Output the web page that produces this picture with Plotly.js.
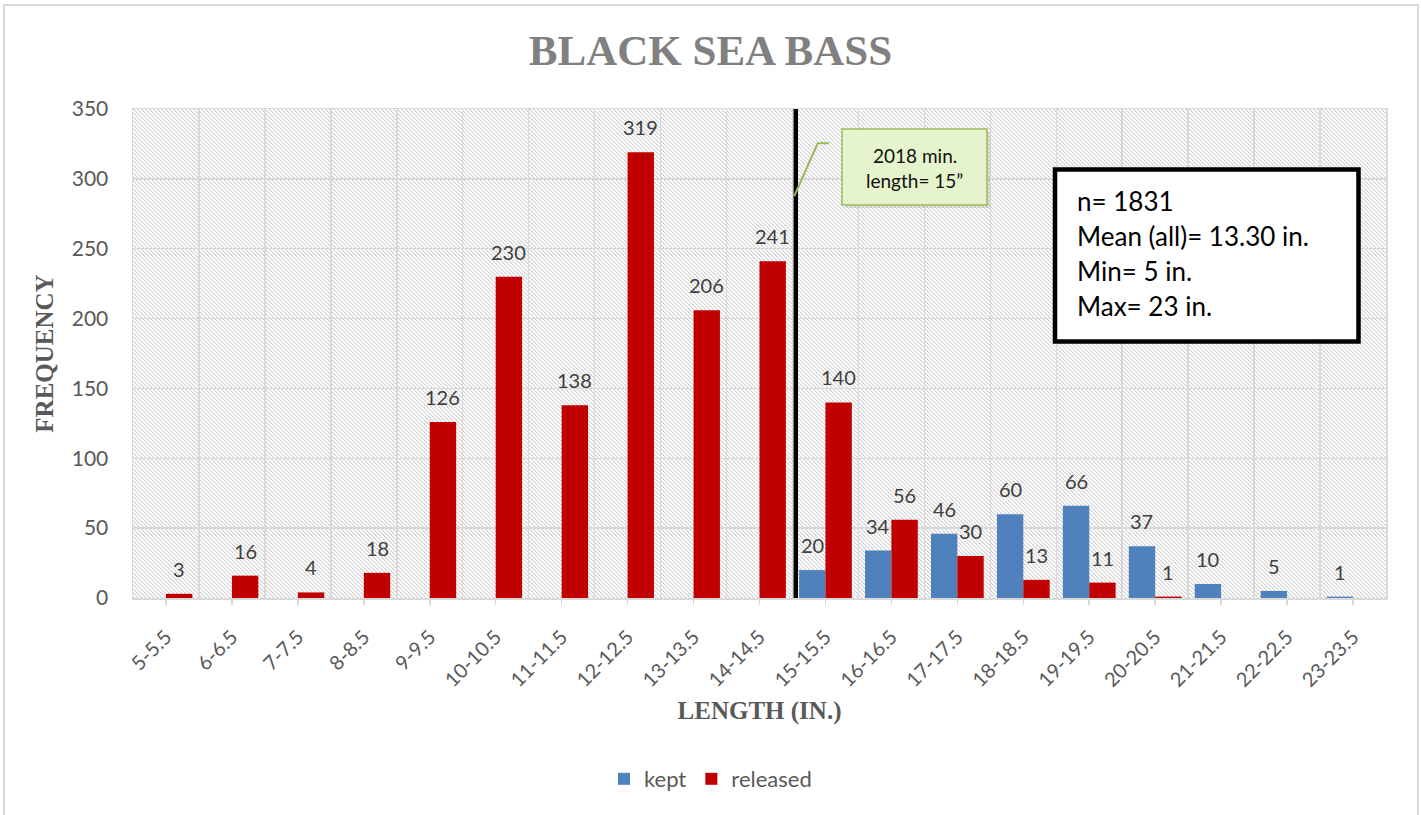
<!DOCTYPE html>
<html><head><meta charset="utf-8">
<script src="https://cdn.plot.ly/plotly-3.0.1.min.js"></script>
<style>
html,body{margin:0;padding:0;background:#fff;overflow:hidden;}
#frame{position:absolute;left:3px;top:4px;width:1416px;height:900px;border:2px solid #d9d9d9;box-sizing:border-box;}
#hatch{position:absolute;left:133px;top:109px;width:1253px;height:489px;
 background-image:url("data:image/svg+xml;utf8,<svg xmlns='http://www.w3.org/2000/svg' width='4' height='4' shape-rendering='crispEdges'><rect width='4' height='4' fill='%23ffffff'/><rect x='0' y='0' width='1' height='1' fill='%23cfcfcf'/><rect x='1' y='1' width='1' height='1' fill='%23cfcfcf'/><rect x='2' y='2' width='1' height='1' fill='%23cfcfcf'/><rect x='3' y='3' width='1' height='1' fill='%23cfcfcf'/><rect x='1' y='0' width='1' height='1' fill='%23ececec'/><rect x='2' y='1' width='1' height='1' fill='%23ececec'/><rect x='3' y='2' width='1' height='1' fill='%23ececec'/><rect x='0' y='3' width='1' height='1' fill='%23ececec'/></svg>");
 background-repeat:repeat;}
#chart{position:absolute;left:0;top:0;width:1421px;height:815px;}
</style></head><body>
<div id="frame"></div><div id="hatch"></div><div id="chart"></div>
<script>
const categories = ["5-5.5","6-6.5","7-7.5","8-8.5","9-9.5","10-10.5","11-11.5","12-12.5","13-13.5","14-14.5",
  "15-15.5","16-16.5","17-17.5","18-18.5","19-19.5","20-20.5","21-21.5","22-22.5","23-23.5"];
const kept     = [null,null,null,null,null,null,null,null,null,null,20,34,46,60,66,37,10,5,1];
const released = [3,16,4,18,126,230,138,319,206,241,140,56,30,13,11,1,null,null,null];
const seriesNames = ["kept","released"];
const minLegalLength = 9.55; // position of the 15" limit line, in category units
const calloutLines = ["2018 min.","length= 15\u201d"];
const statsLines = ["n= 1831","Mean (all)= 13.30 in.","Min= 5 in.","Max= 23 in."];

const gray = '#595959';
const labelFont = {family:'Lato', size:20, color:'#404040'};

const traces = [
  {type:'bar', name:seriesNames[0], x:categories, y:kept, marker:{color:'#4F81BD'}, hoverinfo:'skip'},
  {type:'bar', name:seriesNames[1], x:categories, y:released, marker:{color:'#C00000'}, hoverinfo:'skip'},
  {type:'scatter', x:[], y:[], xaxis:'x2', yaxis:'y', showlegend:false, hoverinfo:'skip'}
];

// px -> paper helpers (plot area: x 133..1386, y 109..598)
const px = v => (v-133)/1253;
const py = v => (598-v)/489;

const annotations = [];
categories.forEach((c,i)=>{
  if(kept[i]!=null) annotations.push({x:c, y:kept[i], text:String(kept[i]), xshift:-13.2, yshift:11,
     yanchor:'bottom', showarrow:false, font:labelFont});
  if(released[i]!=null) annotations.push({x:c, y:released[i], text:String(released[i]), xshift:13.2, yshift:11,
     yanchor:'bottom', showarrow:false, font:labelFont});
});
const calloutY = [155,180];
calloutLines.forEach((t,k)=>annotations.push({xref:'paper', yref:'paper', x:px(914.5), y:py(calloutY[k]),
  text:t, showarrow:false, xanchor:'center', yanchor:'middle', font:{family:'Lato', size:19, color:'#111'}}));
const statsY = [201,236,271,306];
statsLines.forEach((t,k)=>annotations.push({xref:'paper', yref:'paper', x:px(1075), y:py(statsY[k]),
  text:t, showarrow:false, xanchor:'left', yanchor:'middle', font:{family:'Lato', size:26, color:'#000'}}));

const shapes = [
  {type:'line', xref:'x', yref:'y', x0:minLegalLength, x1:minLegalLength, y0:0, y1:350, line:{color:'#000', width:4.5}},
  {type:'rect', xref:'paper', yref:'paper', x0:px(845), x1:px(990), y0:py(132), y1:py(208), fillcolor:'rgba(0,0,0,0.10)', line:{width:0}},
  {type:'rect', xref:'paper', yref:'paper', x0:px(842), x1:px(987), y0:py(129), y1:py(205), fillcolor:'#e5f4cc', line:{color:'#9bbb59', width:1.5}},
  {type:'path', xref:'paper', yref:'paper', path:`M ${px(829.3)},${py(143.3)} L ${px(817.7)},${py(143.3)} L ${px(794.3)},${py(196)}`, line:{color:'#9bbb59', width:2}},
  {type:'rect', xref:'paper', yref:'paper', x0:px(1055), x1:px(1358.5), y0:py(169.5), y1:py(341.5), fillcolor:'#fff', line:{color:'#000', width:4.5}}
];

const layout = {
  width:1421, height:815,
  margin:{l:133, r:35, t:109, b:217},
  paper_bgcolor:'rgba(0,0,0,0)', plot_bgcolor:'rgba(0,0,0,0)',
  barmode:'group', bargap:0.2, bargroupgap:0,
  title:{text:'<b>BLACK SEA BASS</b>', font:{family:'Liberation Serif', size:43, color:'#808080'},
    xref:'container', x:0.5, xanchor:'center', yref:'container', y:1-50/815, yanchor:'middle'},
  xaxis:{type:'category', categoryorder:'array', categoryarray:categories, range:[-0.5,18.5],
    ticks:'outside', ticklen:5, tickwidth:1.5, tickcolor:'#d9d9d9', showline:true, linecolor:'#d9d9d9', linewidth:1.5, mirror:true,
    showgrid:false, tickangle:-45, ticklabelstandoff:13, tickfont:{family:'Lato', size:20, color:gray},
    title:{text:'<b>LENGTH (IN.)</b>', font:{family:'Liberation Serif', size:25, color:gray}, standoff:11}},
  xaxis2:{overlaying:'x', anchor:'y', type:'linear', range:[-0.5,18.5], tick0:-0.5, dtick:1, showgrid:true,
    gridcolor:'#d9d9d9', gridwidth:1.5, showticklabels:false, ticks:'', zeroline:false, showline:false},
  yaxis:{range:[0,350], dtick:50, showgrid:true, gridcolor:'#d9d9d9', gridwidth:1.5, zeroline:false,
    ticks:'outside', ticklen:19, tickcolor:'rgba(0,0,0,0)', showline:true, linecolor:'#d9d9d9', linewidth:1.5, mirror:true,
    tickfont:{family:'Lato', size:21, color:gray},
    title:{text:'<b>FREQUENCY</b>', font:{family:'Liberation Serif', size:25, color:gray}, standoff:11}},
  legend:{orientation:'h', xref:'container', x:0.5, xanchor:'center', yref:'container', y:1-779/815, yanchor:'middle',
    font:{family:'Lato', size:22, color:gray}, itemwidth:30, traceorder:'normal'},
  annotations:annotations,
  shapes:shapes,
  showlegend:true
};

Plotly.newPlot('chart', traces, layout, {staticPlot:true, displayModeBar:false});
</script>
</body></html>
